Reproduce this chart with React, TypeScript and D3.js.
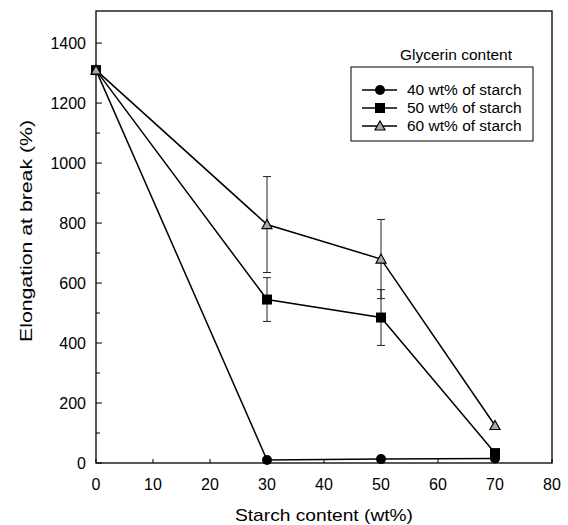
import React from "react";
import * as d3 from "d3";

const starch = [0, 30, 50, 70];
const g40 = [1310, 10, 13, 15];
const g50 = [1310, 545, 485, 33];
const g60 = [1310, 795, 680, 125];
const err50 = [0, 73, 93, 0];
const err60 = [0, 160, 132, 0];
const seriesNames = ["40 wt% of starch", "50 wt% of starch", "60 wt% of starch"];
const xTicks = [0, 10, 20, 30, 40, 50, 60, 70, 80];
const yTicks = [0, 200, 400, 600, 800, 1000, 1200, 1400];
const yMinor = [100, 300, 500, 700, 900, 1100, 1300];

const W = 568, H = 525;
const L = 96, R = 552, T = 11, B = 463;
const font = "Liberation Sans, Arial, sans-serif";

export default function App() {
  const x = d3.scaleLinear().domain([0, 80]).range([L, R]);
  const y = d3.scaleLinear().domain([0, 1507]).range([B, T]);
  const line = d3.line<[number, number]>().x(d => x(d[0])).y(d => y(d[1]));
  const series = [
    { vals: g40, err: null as number[] | null, shape: "circle" },
    { vals: g50, err: err50, shape: "square" },
    { vals: g60, err: err60, shape: "triangle" },
  ];
  const marker = (shape: string, cx: number, cy: number, key: string) => {
    if (shape === "circle") return <circle key={key} cx={cx} cy={cy} r={5} fill="#000" />;
    if (shape === "square") return <rect key={key} x={cx - 5} y={cy - 5} width={10} height={10} fill="#000" />;
    const s = 5;
    return <path key={key} d={`M${cx},${cy - s}L${cx + s},${cy + s * 0.8}L${cx - s},${cy + s * 0.8}Z`} fill="#aaa" stroke="#000" strokeWidth={1.2} />;
  };
  return (
    <svg width={W} height={H} style={{ position: "absolute", left: 0, top: 0, background: "#fff" }} fontFamily={font}>
      <rect x={L} y={T} width={R - L} height={B - T} fill="none" stroke="#000" strokeWidth={1.3} />
      {yTicks.map(t => (
        <g key={"y" + t}>
          <line x1={L} x2={L + 6} y1={y(t)} y2={y(t)} stroke="#000" />
          <text x={L - 10} y={y(t)} dy="0.35em" textAnchor="end" fontSize={16}>{t}</text>
        </g>
      ))}
      {yMinor.map(t => (
        <line key={"ym" + t} x1={L} x2={L + 4} y1={y(t)} y2={y(t)} stroke="#000" />
      ))}
      {xTicks.map(t => (
        <g key={"x" + t}>
          <line x1={x(t)} x2={x(t)} y1={B} y2={B - 4} stroke="#000" />
          <text x={x(t)} y={490} textAnchor="middle" fontSize={16}>{t}</text>
        </g>
      ))}
      <text x={235} y={521} fontSize={17} textLength={178} lengthAdjust="spacingAndGlyphs">Starch content (wt%)</text>
      <text transform={`translate(32,231) rotate(-90)`} x={-111} fontSize={17} textLength={222} lengthAdjust="spacingAndGlyphs">Elongation at break (%)</text>
      {series.map((s, si) => s.err && starch.map((sx, i) => s.err![i] > 0 ? (
        <g key={`e${si}-${i}`} stroke="#222" strokeWidth={1}>
          <line x1={x(sx)} x2={x(sx)} y1={y(s.vals[i] - s.err![i])} y2={y(s.vals[i] + s.err![i])} />
          <line x1={x(sx) - 4} x2={x(sx) + 4} y1={y(s.vals[i] - s.err![i])} y2={y(s.vals[i] - s.err![i])} />
          <line x1={x(sx) - 4} x2={x(sx) + 4} y1={y(s.vals[i] + s.err![i])} y2={y(s.vals[i] + s.err![i])} />
        </g>
      ) : null))}
      {series.map((s, si) => (
        <path key={"l" + si} d={line(starch.map((sx, i) => [sx, s.vals[i]]))!} fill="none" stroke="#000" strokeWidth={1.5} />
      ))}
      {series.map((s, si) => starch.map((sx, i) => marker(s.shape, x(sx), y(s.vals[i]), `m${si}-${i}`)))}
      <text x={456} y={60} textAnchor="middle" fontSize={15.5}>Glycerin content</text>
      <rect x={351} y={67} width={182} height={74} fill="#fff" stroke="#000" strokeWidth={1} />
      {series.map((s, si) => (
        <g key={"lg" + si}>
          <line x1={362} x2={397} y1={90 + si * 18} y2={90 + si * 18} stroke="#000" strokeWidth={1.5} />
          {marker(s.shape, 380, 90 + si * 18, "lm" + si)}
          <text x={407} y={90 + si * 18} dy="0.35em" fontSize={15.5}>{seriesNames[si]}</text>
        </g>
      ))}
    </svg>
  );
}
